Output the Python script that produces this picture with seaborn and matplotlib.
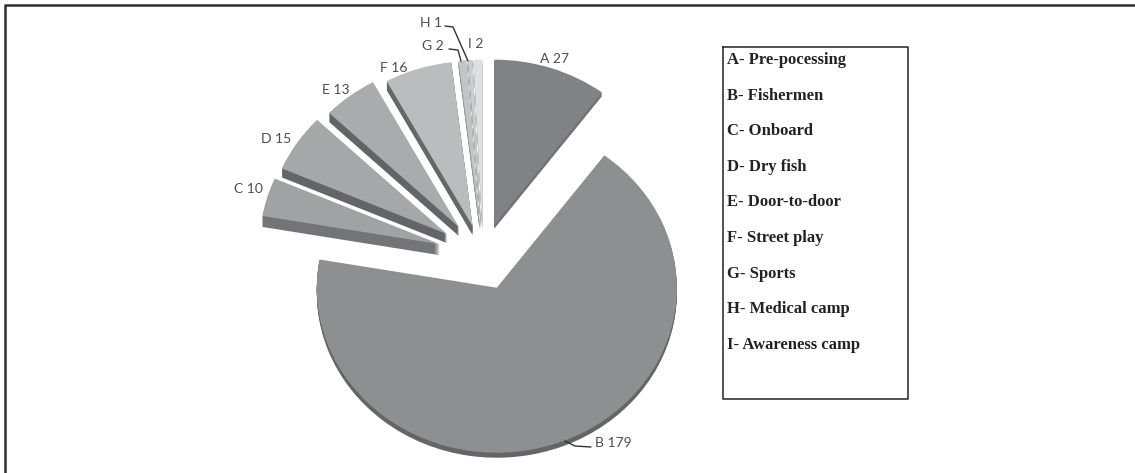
import matplotlib
matplotlib.use("Agg")
import matplotlib.pyplot as plt
import seaborn as sns

codes = ["A", "B", "C", "D", "E", "F", "G", "H", "I"]
values = [27, 179, 10, 15, 13, 16, 2, 1, 2]
names = ["Pre-pocessing", "Fishermen", "Onboard", "Dry fish", "Door-to-door",
         "Street play", "Sports", "Medical camp", "Awareness camp"]
explode = [0.20, 0.207, 0.25, 0.24, 0.22, 0.19, 0.19, 0.19, 0.19]
depths = [4, 5, 11, 9, 9, 9, 6, 6, 6]
top_colors = ["#808285", "#8d8f91", "#a0a2a4", "#a5a7a9", "#a9abad",
              "#babcbe", "#c2c4c6", "#cbcdcf", "#dddfe0"]
side_colors = ["#727376", "#646568", "#737477", "#646568", "#636467",
               "#66676a", "#8e9092", "#a0a2a4", "#b5b7b9"]

sns.set_theme(style="white")
plt.rcParams["font.family"] = ["Lato", "DejaVu Sans"]

W, H = 1135, 473
cx, cy, rx, ry = 483, 256, 180, 165
fig = plt.figure(figsize=(W / 100, H / 100), dpi=100, facecolor="white")
ax = fig.add_axes([0, 0, 1, 1])


def px(x, y):
    return (x - cx) / rx, (cy - y) / ry


pie_kw = dict(explode=explode, startangle=90, counterclock=False, radius=1.0)
for depth in range(max(depths), 0, -1):
    layer = [c if depth <= d else "none" for c, d in zip(side_colors, depths)]
    ax.pie(values, colors=layer, center=(0, -depth / ry),
           wedgeprops=dict(linewidth=0), **pie_kw)
ax.pie(values, colors=top_colors, wedgeprops=dict(linewidth=0), **pie_kw)

ax.set_aspect("auto")
ax.set_xlim(px(0, 0)[0], px(W, 0)[0])
ax.set_ylim(px(0, H)[1], px(0, 0)[1])
ax.axis("off")

label_pos = [(554, 59), (613, 443), (248, 189), (276, 139), (336, 90),
             (394, 68), (433, 46), (431, 23), (476, 44)]
for code, val, (x, y) in zip(codes, values, label_pos):
    ax.text(*px(x, y), f"{code} {val}", fontsize=10, color="#4d4d4f",
            ha="center", va="center", zorder=5)

leaders = [[(449, 49), (458, 50), (461, 61)],
           [(445, 26), (453, 27), (468, 61)],
           [(565, 441), (575, 446), (591, 447)]]
for pts in leaders:
    xs, ys = zip(*[px(*p) for p in pts])
    ax.plot(xs, ys, color="#333333", lw=1.0, zorder=5)

# outer frame: top and left edges only
frame = [(5, H), (5, 5), (W, 5)]
xs, ys = zip(*[px(*p) for p in frame])
ax.plot(xs, ys, color="#2e2e2e", lw=1.8, zorder=6, clip_on=False)

# legend box
box = [(723, 47), (908, 47), (908, 399), (723, 399), (723, 47)]
xs, ys = zip(*[px(*p) for p in box])
ax.plot(xs, ys, color="#333333", lw=1.2, zorder=6)
for i, (code, name) in enumerate(zip(codes, names)):
    ax.text(*px(727, 60 + i * 35.6), f"{code}- {name}", fontsize=12,
            family="Liberation Serif", weight="bold", color="#222222",
            ha="left", va="center", zorder=6)

fig.savefig("out.png", dpi=100)
